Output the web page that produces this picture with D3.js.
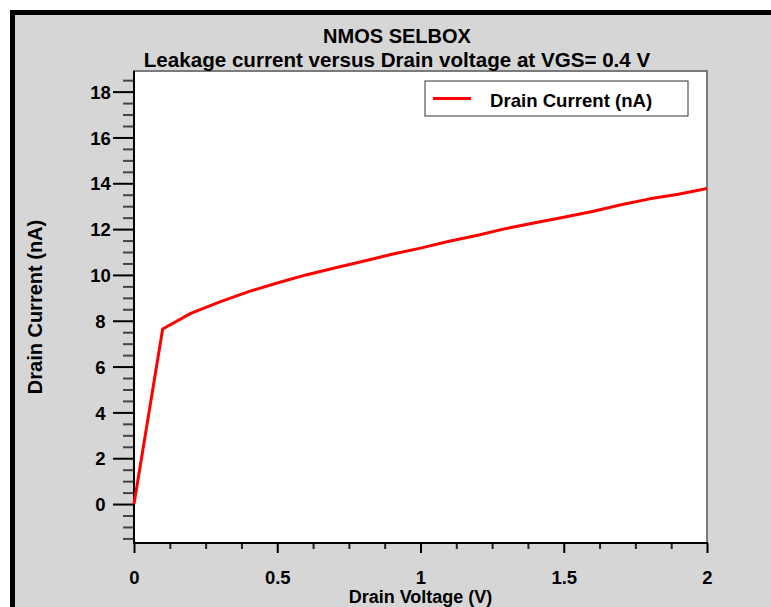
<!DOCTYPE html>
<html>
<head>
<meta charset="utf-8">
<script src="https://cdn.jsdelivr.net/npm/d3@7"></script>
<style>
  body { margin: 0; background: #fff; }
  svg text { font-family: "Liberation Sans", Arial, Helvetica, sans-serif; font-weight: bold; fill: #000; }
</style>
</head>
<body>
<script>
// Drain sweep at VGS = 0.4 V
const drainVoltage = [0, 0.1, 0.2, 0.3, 0.4, 0.5, 0.6, 0.7, 0.8, 0.9, 1.0,
                      1.1, 1.2, 1.3, 1.4, 1.5, 1.6, 1.7, 1.8, 1.9, 2.0];
const drainCurrent = [0, 7.64, 8.33, 8.82, 9.27, 9.65, 10.0, 10.3, 10.6, 10.9, 11.17,
                      11.47, 11.73, 12.03, 12.28, 12.52, 12.77, 13.06, 13.32, 13.52, 13.77];

const yTickValues = [0, 2, 4, 6, 8, 10, 12, 14, 16, 18];
const yTickLabels = ["0", "2", "4", "6", "8", "10", "12", "14", "16", "18"];
const xTickValues = [0, 0.5, 1, 1.5, 2];
const xTickLabels = ["0", "0.5", "1", "1.5", "2"];

const titleLines = ["NMOS SELBOX", "Leakage current versus Drain voltage at VGS= 0.4 V"];
const seriesName = "Drain Current (nA)";
const xAxisTitle = "Drain Voltage (V)";
const yAxisTitle = "Drain Current (nA)";

const W = 771, H = 607;
const plot = { left: 134, right: 707, top: 71, bottom: 543 };

const svg = d3.select("body").append("svg")
  .attr("width", W).attr("height", H);

// window frame: black edge on top and left, grey panel
svg.append("rect").attr("x", 10).attr("y", 10)
  .attr("width", W - 10).attr("height", H - 10).attr("fill", "#000");
svg.append("rect").attr("x", 15).attr("y", 15)
  .attr("width", W - 15).attr("height", H - 15).attr("fill", "#d6d6d6");

const x = d3.scaleLinear().domain([0, 2]).range([plot.left, plot.right]);
const y = d3.scaleLinear().domain([-1.7, 18.9]).range([plot.bottom, plot.top]);

// plot area
svg.append("rect")
  .attr("x", plot.left).attr("y", plot.top)
  .attr("width", plot.right - plot.left).attr("height", plot.bottom - plot.top)
  .attr("fill", "#fff").attr("stroke", "#7a7a7a").attr("stroke-width", 2);

// minor ticks
const yMinor = d3.range(-1.5, 18.51, 0.5).filter(v => Math.abs(v % 2) > 1e-9);
const xMinor = d3.range(0, 2.001, 0.125).filter(v => Math.abs((v * 2) % 1) > 1e-9);

svg.append("g").attr("transform", `translate(${plot.left},0)`)
  .call(d3.axisLeft(y).tickValues(yMinor).tickSize(11).tickFormat(""))
  .call(g => g.select(".domain").remove())
  .call(g => g.selectAll("line").attr("stroke", "#444").attr("stroke-width", 2));

svg.append("g").attr("transform", `translate(0,${plot.bottom})`)
  .call(d3.axisBottom(x).tickValues(xMinor).tickSize(6).tickFormat(""))
  .call(g => g.select(".domain").remove())
  .call(g => g.selectAll("line").attr("stroke", "#222").attr("stroke-width", 2));

// major ticks and labels
svg.append("g").attr("transform", `translate(${plot.left},0)`)
  .call(d3.axisLeft(y).tickValues(yTickValues).tickSize(21)
    .tickFormat((d, i) => yTickLabels[i]))
  .call(g => g.select(".domain").remove())
  .call(g => g.selectAll("line").attr("stroke", "#000").attr("stroke-width", 2))
  .call(g => g.selectAll("text")
    .attr("x", -33.5).attr("text-anchor", "middle")
    .attr("dy", "0.36em").style("font-size", "18.5px"));

svg.append("g").attr("transform", `translate(0,${plot.bottom})`)
  .call(d3.axisBottom(x).tickValues(xTickValues).tickSize(10)
    .tickFormat((d, i) => xTickLabels[i]))
  .call(g => g.select(".domain").remove())
  .call(g => g.selectAll("line").attr("stroke", "#000").attr("stroke-width", 2))
  .call(g => g.selectAll("text")
    .attr("y", 41).attr("dy", null).style("font-size", "18.5px"));

// axis lines
svg.append("line")
  .attr("x1", plot.left).attr("x2", plot.left)
  .attr("y1", plot.top).attr("y2", plot.bottom + 1)
  .attr("stroke", "#000").attr("stroke-width", 2);
svg.append("line")
  .attr("x1", plot.left - 1).attr("x2", plot.right + 1)
  .attr("y1", plot.bottom).attr("y2", plot.bottom)
  .attr("stroke", "#000").attr("stroke-width", 2);

// current curve
const points = drainVoltage.map((v, i) => [v, drainCurrent[i]]);
svg.append("path")
  .datum(points)
  .attr("fill", "none")
  .attr("stroke", "#ff0000")
  .attr("stroke-width", 3)
  .attr("stroke-linejoin", "round")
  .attr("d", d3.line().x(d => x(d[0])).y(d => y(d[1])));

// titles
svg.append("text").attr("x", 397).attr("y", 43)
  .attr("text-anchor", "middle").style("font-size", "20px").text(titleLines[0]);
svg.append("text").attr("x", 397).attr("y", 67)
  .attr("text-anchor", "middle").style("font-size", "20.6px").text(titleLines[1]);

svg.append("text").attr("x", (plot.left + plot.right) / 2).attr("y", 603)
  .attr("text-anchor", "middle").style("font-size", "18px").text(xAxisTitle);

svg.append("text")
  .attr("transform", `translate(42,${(plot.top + plot.bottom) / 2}) rotate(-90)`)
  .attr("text-anchor", "middle").style("font-size", "20px").text(yAxisTitle);

// legend
const legend = svg.append("g").attr("transform", "translate(425,81)");
legend.append("rect").attr("width", 263).attr("height", 35)
  .attr("fill", "#fff").attr("stroke", "#333").attr("stroke-width", 1);
legend.append("line").attr("x1", 8).attr("x2", 46).attr("y1", 17.5).attr("y2", 17.5)
  .attr("stroke", "#ff0000").attr("stroke-width", 3);
legend.append("text").attr("x", 65).attr("y", 26)
  .style("font-size", "18.6px").text(seriesName);
</script>
</body>
</html>
